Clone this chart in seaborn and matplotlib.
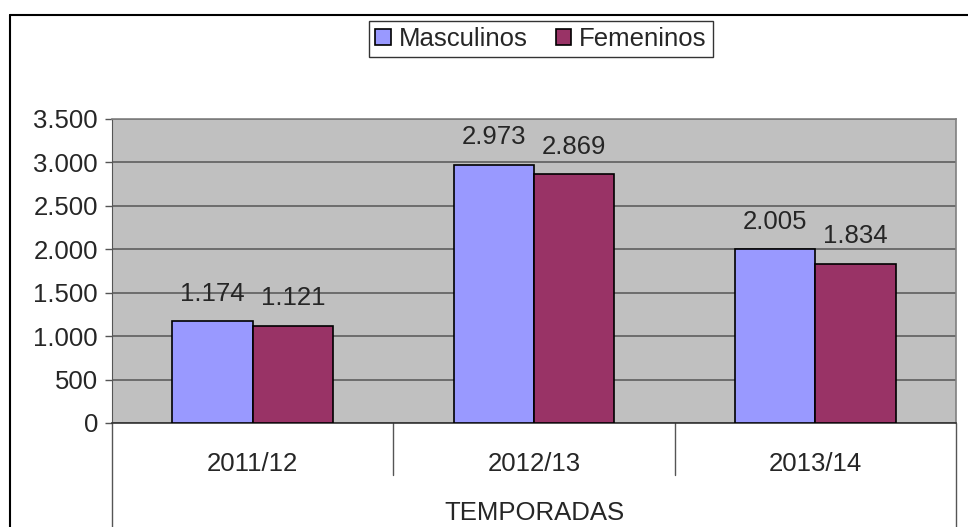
import matplotlib
matplotlib.use("Agg")
import matplotlib.pyplot as plt
import seaborn as sns
import pandas as pd
from matplotlib.lines import Line2D
from matplotlib.patches import Patch

# -----------------------------
# DATA
# -----------------------------
temporadas = ["2011/12", "2012/13", "2013/14"]
masculinos = [1174, 2973, 2005]
femeninos = [1121, 2869, 1834]
series_names = ["Masculinos", "Femeninos"]
y_ticks = [0, 500, 1000, 1500, 2000, 2500, 3000, 3500]

df = pd.DataFrame({
    "temporada": temporadas * 2,
    "valor": masculinos + femeninos,
    "serie": [series_names[0]] * 3 + [series_names[1]] * 3,
})

colors = {"Masculinos": "#9999FF", "Femeninos": "#993366"}
FS = 18.5

def fmt(v):
    return f"{v:,}".replace(",", ".")

# -----------------------------
# FIGURE
# -----------------------------
sns.set_style("white")
plt.rcParams["font.family"] = ["Liberation Sans", "DejaVu Sans"]

fig = plt.figure(figsize=(9.68, 5.27), dpi=100)
ax = fig.add_axes([112 / 968, 1 - 423 / 527, 844 / 968, 304 / 527])

sns.barplot(data=df, x="temporada", y="valor", hue="serie", palette=colors,
            saturation=1, width=0.57, edgecolor="black", linewidth=1.2,
            ax=ax, zorder=3, legend=False)

ax.set_facecolor("#C0C0C0")
ax.set_xlim(-0.5, 2.5)
ax.set_ylim(0, 3500)
ax.set_yticks(y_ticks)
ax.set_yticklabels([fmt(t) for t in y_ticks], fontsize=FS)
ax.yaxis.grid(True, color="#555555", linewidth=1.1, zorder=1)
ax.set_axisbelow(True)
ax.tick_params(axis="y", length=5, width=1, color="#555555", left=True, pad=5)
ax.tick_params(axis="x", length=0, labelsize=FS, pad=21)
ax.set_xlabel("TEMPORADAS", fontsize=FS, labelpad=18)
ax.set_ylabel("")

for side in ["top", "right"]:
    ax.spines[side].set_color("#808080")
    ax.spines[side].set_linewidth(1.2)
ax.spines["left"].set_color("#555555")
ax.spines["bottom"].set_color("#333333")
ax.spines["bottom"].set_linewidth(1.2)

# value labels
for container in ax.containers:
    ax.bar_label(container, labels=[fmt(int(v)) for v in container.datavalues],
                 padding=11, fontsize=FS)

# category separators under the axis
sep_bottom = -(475 - 423) / 304
for xf in [1 / 3, 2 / 3]:
    ax.add_line(Line2D([xf, xf], [0, sep_bottom], transform=ax.transAxes,
                       color="#555555", linewidth=1, clip_on=False))
low = -(527 - 423) / 304
for xf in [0, 1]:
    ax.add_line(Line2D([xf, xf], [0, low], transform=ax.transAxes,
                       color="#555555", linewidth=1, clip_on=False))

# legend
handles = [Patch(facecolor=colors[s], edgecolor="black", linewidth=1.2, label=s)
           for s in series_names]
leg = fig.legend(handles=handles, loc="center",
                 bbox_to_anchor=(369 / 968, 1 - 59 / 527, 344 / 968, 40 / 527),
                 mode="expand", ncol=2, fontsize=FS, frameon=True, fancybox=False,
                 handlelength=0.6, handleheight=0.6, handletextpad=0.3,
                 columnspacing=0.5, borderpad=0.25, borderaxespad=0)
leg.get_frame().set_edgecolor("black")
leg.get_frame().set_linewidth(1)

# outer border
fig.add_artist(Line2D([10 / 968, 1], [1 - 15 / 527, 1 - 15 / 527],
                      transform=fig.transFigure, color="black", linewidth=1.5))
fig.add_artist(Line2D([10 / 968, 10 / 968], [0, 1 - 15 / 527],
                      transform=fig.transFigure, color="black", linewidth=1.5))

fig.savefig("out.png", dpi=100)
